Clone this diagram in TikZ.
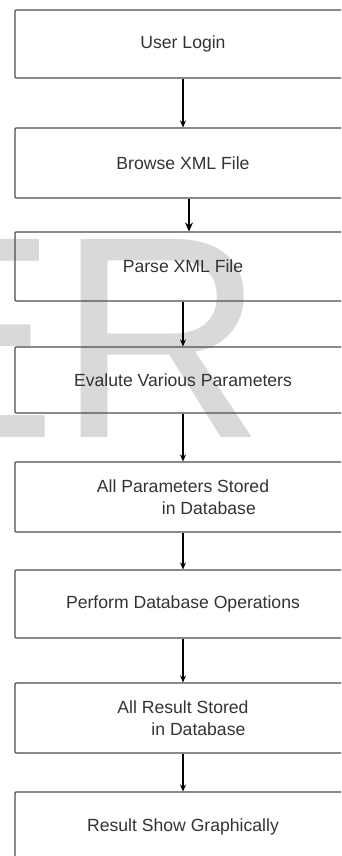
\documentclass[tikz,border=0pt]{standalone}
\usepackage{fontspec}
\setmainfont{Liberation Sans}
\usetikzlibrary{arrows.meta}

\begin{document}
\begin{tikzpicture}[x=1pt,y=1pt,
    stage/.style={draw=black!70, line width=1.1pt, rounded corners=1pt,
      minimum width=336pt, text=black!80, inner sep=0pt, align=left,
      font=\fontsize{17.6}{22}\selectfont},
    flow/.style={draw=black, line width=1.1pt, -{Stealth[length=7pt,width=6pt]}},
    watermark/.style={text=black!15, inner sep=0pt,
      font=\fontsize{288}{288}\selectfont}]
\useasboundingbox (0,0) rectangle (341,856);
\clip (0,0) rectangle (341,856);

% watermark letters behind the chart
\node[watermark, anchor=base west] (wm) at (-134.7,418) {ER};

\node[stage, minimum height=68pt] (login) at (183,812) {User Login};
\node[stage, minimum height=70pt] (browse) at (183,693) {Browse XML File};
\node[stage, minimum height=69pt] (parse) at (183,589.5) {Parse XML File};
\node[stage, minimum height=66pt] (evaluate) at (183,476) {Evalute Various Parameters};
\node[stage, minimum height=70pt] (paramdb) at (183,359)
  {All Parameters Stored\\\hspace*{65pt}in Database};
\node[stage, minimum height=68pt] (dbops) at (183,252) {Perform Database Operations};
\node[stage, minimum height=70pt] (resultdb) at (183,138)
  {All Result Stored\\\hspace*{34pt}in Database};
\node[stage, minimum height=70pt] (graph) at (183,29) {Result Show Graphically};

\draw[flow] (login) -- (browse);
\draw[flow, -{Stealth[length=9pt,width=8pt]}] ([xshift=6pt]browse.south) -- ([xshift=6pt]parse.north);
\draw[flow] (parse) -- (evaluate);
\draw[flow] (evaluate) -- (paramdb);
\draw[flow] (paramdb) -- (dbops);
\draw[flow] (dbops) -- (resultdb);
\draw[flow] (resultdb) -- (graph);
\end{tikzpicture}
\end{document}
